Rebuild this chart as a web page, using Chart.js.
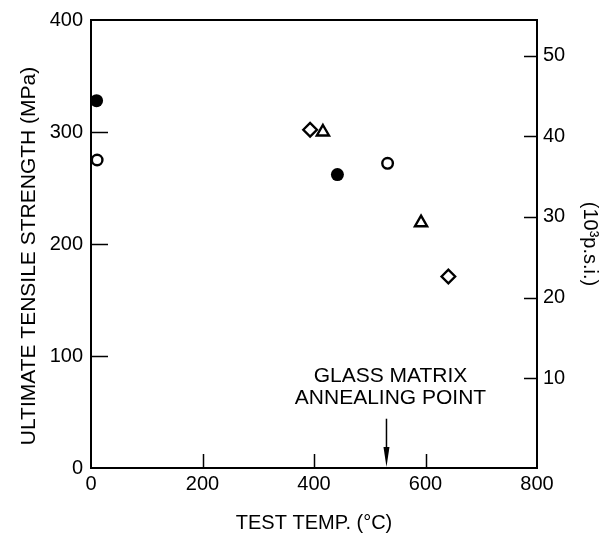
<!DOCTYPE html>
<html><head><meta charset="utf-8">
<script src="https://cdn.jsdelivr.net/npm/chart.js@4"></script>
<style>html,body{margin:0;padding:0;background:#fff}#wrap{width:607px;height:536px}</style>
</head><body><div id="wrap"><canvas id="c" width="607" height="536"></canvas></div>
<script>
const FONT = "'Liberation Sans', Arial, Helvetica, sans-serif";
const tempTicks = [0, 200, 400, 600, 800];
const mpaTicks = [0, 100, 200, 300, 400];
const psiTicks = [10, 20, 30, 40, 50];
const filledCircleTemp = [10, 442];
const filledCircleMPa = [328, 262];
const openCircleTemp = [11, 532];
const openCircleMPa = [275, 272];
const triangleTemp = [416, 592];
const triangleMPa = [300, 219];
const diamondTemp = [393, 641];
const diamondMPa = [302, 171];
const annealTemp = 530;
const annotationLines = ['GLASS MATRIX', 'ANNEALING POINT'];
const annotationMPa = [82, 62];
const arrowTopMPa = 44;
const xTitle = 'TEST TEMP. (°C)';
const yTitle = 'ULTIMATE TENSILE STRENGTH (MPa)';
const y2Title = '(10³p.s.i.)';

function pts(xs, ys) { return xs.map((x, i) => ({x: x, y: ys[i]})); }

const framePlugin = {
  id: 'frame',
  afterDraw(chart) {
    const {ctx, chartArea: a, scales} = chart;
    const x = scales.x, y = scales.y, y2 = scales.y2;
    ctx.save();
    ctx.strokeStyle = '#000';
    ctx.lineWidth = 2;
    ctx.strokeRect(a.left, a.top, a.right - a.left, a.bottom - a.top);
    ctx.lineWidth = 1.5;
    ctx.beginPath();
    mpaTicks.forEach(v => {
      if (v <= y.min || v >= y.max) return;
      const py = Math.round(y.getPixelForValue(v)) + 0.5;
      ctx.moveTo(a.left, py); ctx.lineTo(a.left + 17, py);
    });
    tempTicks.forEach(v => {
      if (v <= x.min || v >= x.max) return;
      const px = Math.round(x.getPixelForValue(v)) + 0.5;
      ctx.moveTo(px, a.bottom); ctx.lineTo(px, a.bottom - 14);
    });
    psiTicks.forEach(v => {
      const py = Math.round(y2.getPixelForValue(v)) + 0.5;
      ctx.moveTo(a.right, py); ctx.lineTo(a.right - 13, py);
    });
    ctx.stroke();
    // annealing arrow
    const ax = x.getPixelForValue(annealTemp);
    const ay0 = y.getPixelForValue(arrowTopMPa);
    const ay1 = a.bottom - 1;
    ctx.beginPath();
    ctx.moveTo(ax, ay0); ctx.lineTo(ax, ay1 - 10);
    ctx.stroke();
    ctx.fillStyle = '#000';
    ctx.beginPath();
    ctx.moveTo(ax - 3, ay1 - 20); ctx.lineTo(ax + 3, ay1 - 20); ctx.lineTo(ax, ay1); ctx.closePath();
    ctx.fill();
    ctx.font = '21px ' + FONT;
    ctx.textAlign = 'center';
    ctx.textBaseline = 'middle';
    annotationLines.forEach((t, i) => {
      ctx.fillText(t, ax + 4, y.getPixelForValue(annotationMPa[i]));
    });
    // left axis title (set slightly below the axis centre, as in the original)
    ctx.translate(29, 256);
    ctx.rotate(-Math.PI / 2);
    ctx.fillText(yTitle, 0, 0);
    ctx.restore();
  }
};

const tickFont = {family: FONT, size: 20};
new Chart(document.getElementById('c'), {
  type: 'scatter',
  data: {
    datasets: [
      {data: pts(filledCircleTemp, filledCircleMPa), pointStyle: 'circle', pointRadius: 6.5, backgroundColor: '#000', borderColor: '#000', borderWidth: 0},
      {data: pts(openCircleTemp, openCircleMPa), pointStyle: 'circle', pointRadius: 5.3, backgroundColor: '#fff', borderColor: '#000', borderWidth: 2.4},
      {data: pts(triangleTemp, triangleMPa), pointStyle: 'triangle', pointRadius: 7, backgroundColor: '#fff', borderColor: '#000', borderWidth: 2.4},
      {data: pts(diamondTemp, diamondMPa), pointStyle: 'rectRot', pointRadius: 6.8, backgroundColor: '#fff', borderColor: '#000', borderWidth: 2.4}
    ]
  },
  options: {
    responsive: false,
    devicePixelRatio: 1,
    animation: false,
    layout: {padding: {top: 16, left: 0, right: 0, bottom: 0}},
    plugins: {legend: {display: false}, tooltip: {enabled: false}},
    scales: {
      x: {
        type: 'linear', position: 'bottom', min: 0, max: 800,
        afterBuildTicks: s => { s.ticks = tempTicks.map(v => ({value: v})); },
        grid: {display: false, drawTicks: false}, border: {display: false},
        ticks: {font: tickFont, color: '#000', padding: 4, maxRotation: 0},
        title: {display: true, text: xTitle, font: tickFont, color: '#000', padding: {top: 0, bottom: 1}},
        afterFit: s => { s.height = 68; }
      },
      y: {
        type: 'linear', position: 'left', min: 0, max: 400,
        afterBuildTicks: s => { s.ticks = mpaTicks.map(v => ({value: v})); },
        grid: {display: false, drawTicks: false}, border: {display: false},
        ticks: {font: tickFont, color: '#000', padding: 8},
        title: {display: false, text: yTitle},
        afterFit: s => { s.width = 91; }
      },
      y2: {
        type: 'linear', position: 'right', min: -1.17, max: 54.46,
        afterBuildTicks: s => { s.ticks = psiTicks.map(v => ({value: v})); },
        grid: {display: false, drawTicks: false}, border: {display: false},
        ticks: {font: tickFont, color: '#000', padding: 6},
        title: {display: true, text: y2Title, font: tickFont, color: '#000', padding: {top: 5, bottom: 0}},
        afterFit: s => { s.width = 70; }
      }
    }
  },
  plugins: [framePlugin]
});
</script>
</body></html>
